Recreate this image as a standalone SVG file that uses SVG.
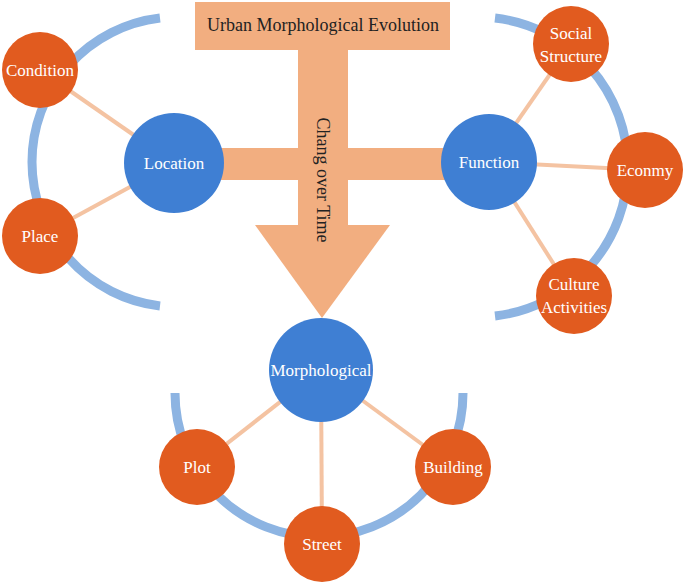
<svg xmlns="http://www.w3.org/2000/svg" width="685" height="582" viewBox="0 0 685 582">
<style>
.arc{fill:none;stroke:#8db4e2;stroke-width:9}
.ln{stroke:#f4c3a2;stroke-width:4}
.hub{fill:#3f7fd3}
.leaf{fill:#e15b1f}
.t{font-family:"Liberation Serif",serif;font-size:17px;fill:#fff;text-anchor:middle;dominant-baseline:central}
.bar{fill:#f2ae80}
</style>
<g id="arcs">
<path class="arc" d="M160,18 A145,145 0 0 0 160,306"/>
<path class="arc" d="M495,18 A150,150 0 0 1 495,316"/>
<path class="arc" d="M175,393 A144,144 0 0 0 463,393"/>
</g>
<g id="frame">
<rect class="bar" x="195" y="2" width="255" height="48"/>
<rect class="bar" x="298" y="48" width="50" height="180"/>
<rect class="bar" x="175" y="148" width="315" height="32"/>
<polygon class="bar" points="255,225 390,225 322,318"/>
<text x="323" y="25" font-family="Liberation Serif,serif" font-size="18" text-anchor="middle" dominant-baseline="central" fill="#222">Urban Morphological Evolution</text>
<text transform="translate(323,180) rotate(90)" font-family="Liberation Serif,serif" font-size="18" text-anchor="middle" dominant-baseline="central" fill="#222">Chang over Time</text>
</g>
<g id="connectors">
<line class="ln" x1="174" y1="163" x2="40" y2="70"/>
<line class="ln" x1="174" y1="163" x2="40" y2="236"/>
<line class="ln" x1="489" y1="162" x2="571" y2="44"/>
<line class="ln" x1="489" y1="162" x2="645" y2="170"/>
<line class="ln" x1="489" y1="162" x2="574" y2="296"/>
<line class="ln" x1="321" y1="370" x2="197" y2="467"/>
<line class="ln" x1="321" y1="370" x2="322" y2="544"/>
<line class="ln" x1="321" y1="370" x2="453" y2="467"/>
</g>
<g id="location"><circle class="hub" cx="174" cy="163" r="50"/><text class="t" x="174" y="163">Location</text></g>
<g id="function"><circle class="hub" cx="489" cy="162" r="48"/><text class="t" x="489" y="162">Function</text></g>
<g id="morphological"><circle class="hub" cx="321" cy="370" r="52"/><text class="t" x="321" y="370">Morphological</text></g>
<g id="condition"><circle class="leaf" cx="40" cy="70" r="38"/><text class="t" x="40" y="70">Condition</text></g>
<g id="place"><circle class="leaf" cx="40" cy="236" r="38"/><text class="t" x="40" y="236">Place</text></g>
<g id="social"><circle class="leaf" cx="571" cy="44" r="38"/><text class="t" x="571" y="33">Social</text><text class="t" x="571" y="56">Structure</text></g>
<g id="econmy"><circle class="leaf" cx="645" cy="170" r="38"/><text class="t" x="645" y="170">Econmy</text></g>
<g id="culture"><circle class="leaf" cx="574" cy="296" r="38"/><text class="t" x="574" y="284">Culture</text><text class="t" x="574" y="307">Activities</text></g>
<g id="plot"><circle class="leaf" cx="197" cy="467" r="38"/><text class="t" x="197" y="467">Plot</text></g>
<g id="street"><circle class="leaf" cx="322" cy="544" r="38"/><text class="t" x="322" y="544">Street</text></g>
<g id="building"><circle class="leaf" cx="453" cy="467" r="38"/><text class="t" x="453" y="467">Building</text></g>
</svg>
